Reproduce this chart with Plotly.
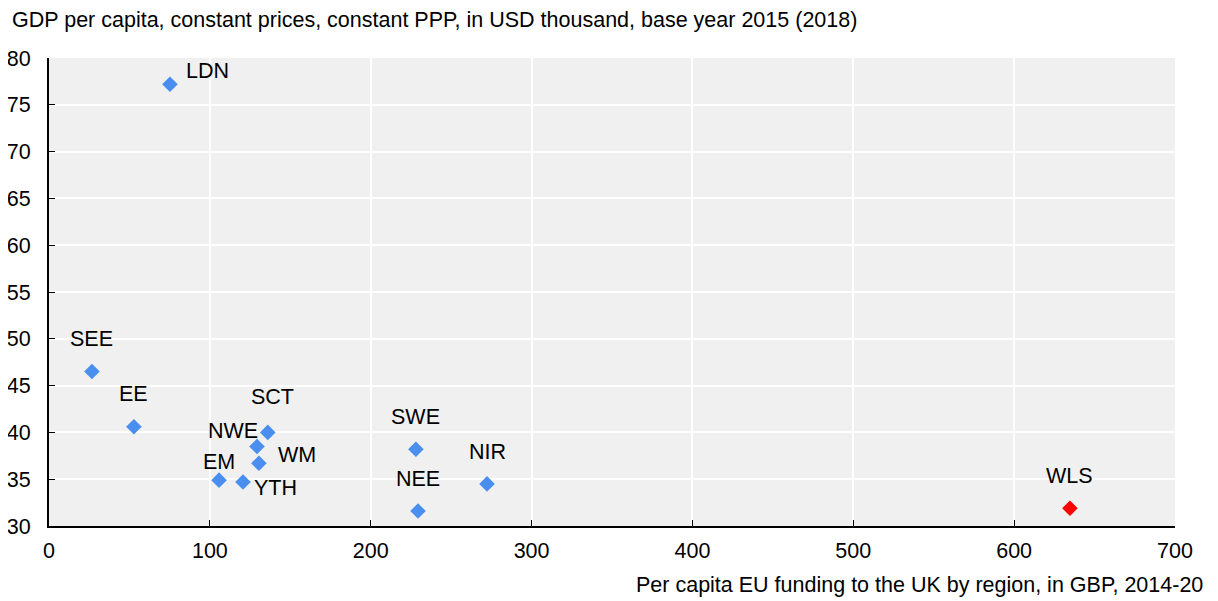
import plotly.graph_objects as go

regions = ["LDN", "SEE", "EE", "SCT", "NWE", "WM", "EM", "YTH", "SWE", "NEE", "NIR", "WLS"]
eu_funding = [75.2, 26.7, 52.8, 136.0, 129.3, 130.5, 105.7, 120.6, 228.1, 229.4, 272.3, 634.7]
gdp_pc = [77.2, 46.5, 40.6, 40.0, 38.5, 36.7, 34.9, 34.7, 38.2, 31.6, 34.5, 31.9]
highlight = ["WLS"]

x_ticks = [0, 100, 200, 300, 400, 500, 600, 700]
y_ticks = [30, 35, 40, 45, 50, 55, 60, 65, 70, 75, 80]

y_title = "GDP per capita, constant prices, constant PPP, in USD thousand, base year 2015 (2018)"
x_title = "Per capita EU funding to the UK by region, in GBP, 2014-20"

# label offsets in pixels (style)
label_offsets = {
    "LDN": (38, 13), "SEE": (0, 33), "EE": (0, 33), "SCT": (5, 35),
    "NWE": (-24, 15), "WM": (38, 8), "EM": (0, 18), "YTH": (33, -6),
    "SWE": (0, 32), "NEE": (0, 32), "NIR": (0, 32), "WLS": (0, 32),
}

FONT = "Arial, Liberation Sans, sans-serif"
FS = 21.5
colors = ["#ff0000" if r in highlight else "#4a8ff0" for r in regions]

fig = go.Figure()
fig.add_trace(go.Scatter(
    x=eu_funding, y=gdp_pc, mode="markers",
    marker=dict(symbol="diamond", size=12, color=colors, line=dict(width=0)),
    hovertext=regions, showlegend=False,
))

for r, xv, yv in zip(regions, eu_funding, gdp_pc):
    dx, dy = label_offsets[r]
    fig.add_annotation(x=xv, y=yv, text=r, showarrow=False, xshift=dx, yshift=dy,
                       font=dict(family=FONT, size=FS, color="#000000"))

fig.add_annotation(x=0, xref="paper", xanchor="left", xshift=-39, y=1, yref="paper",
                   yanchor="middle", yshift=38, text=y_title, showarrow=False,
                   font=dict(family=FONT, size=FS, color="#000000"))
fig.add_annotation(x=1, xref="paper", xanchor="right", xshift=30, y=0, yref="paper",
                   yanchor="middle", yshift=-59, text=x_title, showarrow=False,
                   font=dict(family=FONT, size=FS, color="#000000"))

fig.update_layout(
    width=1210, height=593,
    margin=dict(l=41, r=43, t=50, b=75),
    paper_bgcolor="white", plot_bgcolor="#f0f0f0",
    font=dict(family=FONT, size=FS, color="#000000"),
)
fig.update_xaxes(range=[0, 700], tickvals=x_ticks, ticks="inside", ticklen=6, tickcolor="black",
                 showline=True, linecolor="black", linewidth=2, showgrid=True, gridcolor="white",
                 gridwidth=2, zeroline=False, tickfont=dict(size=FS), ticklabelstandoff=4,
                 automargin=False)
fig.update_yaxes(range=[30, 80], tickvals=y_ticks, ticks="inside", ticklen=6, tickcolor="black",
                 showline=True, linecolor="black", linewidth=2, showgrid=True, gridcolor="white",
                 gridwidth=2, zeroline=False, tickfont=dict(size=FS), ticklabelstandoff=12,
                 automargin=False)

fig.write_html("out.html")
